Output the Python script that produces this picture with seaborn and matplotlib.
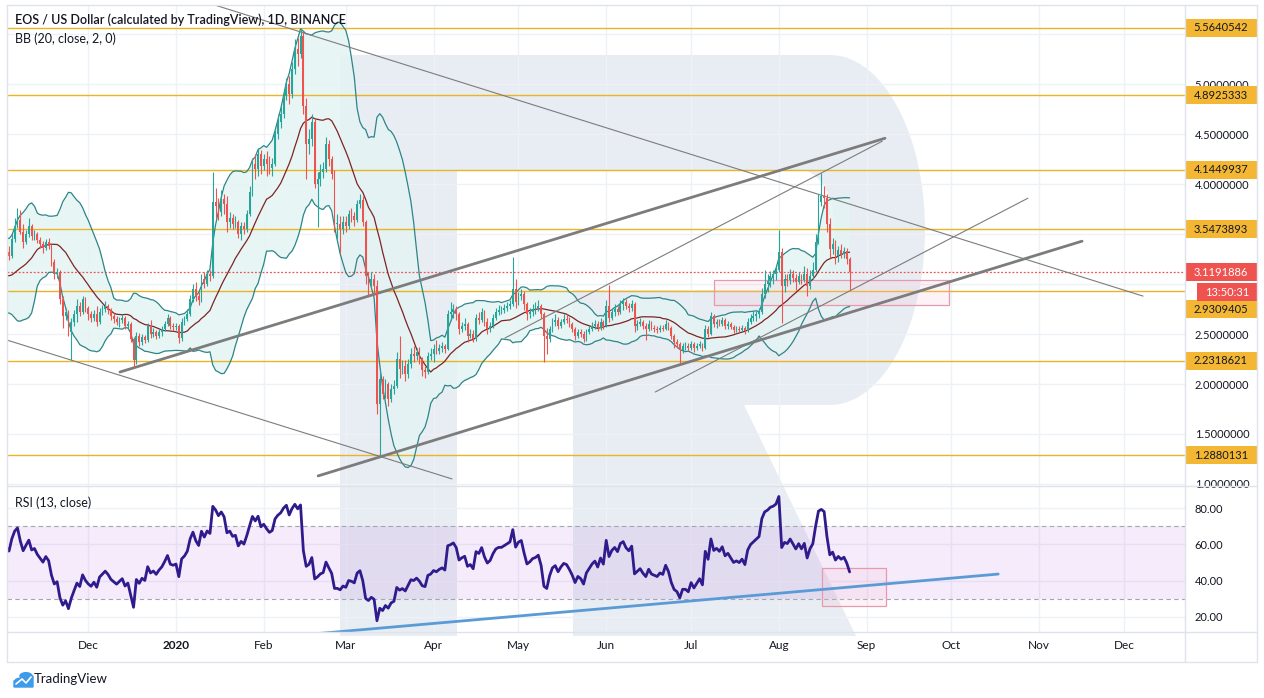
import numpy as np
import pandas as pd
import matplotlib
matplotlib.use("Agg")
import matplotlib.pyplot as plt
import matplotlib.dates as mdates
import matplotlib.transforms as mtransforms
from matplotlib.patches import Rectangle, Polygon, Circle
from matplotlib.lines import Line2D
import seaborn as sns

sns.set_theme(style="white")
plt.rcParams["font.family"] = ["Lato", "DejaVu Sans"]

# ---------------- data (daily EOS/USD) ----------------
first_day = "2019-10-14"
close = [
    3.35, 3.28, 3.15, 3.18, 3.06, 3.02, 3.05, 2.98, 2.88, 2.62, 2.64, 3.00, 3.15, 3.24, 3.12, 3.20, 3.12, 3.16, 3.22, 3.32,
    3.28, 3.45, 3.58, 3.64, 3.52, 3.42, 3.50, 3.58, 3.48, 3.50, 3.44, 3.40, 3.36, 3.42, 3.38, 3.22, 3.10, 3.12, 2.85, 2.68, 2.72, 2.52, 2.62, 2.70, 2.78, 2.72, 2.85, 2.76,
    2.70, 2.66, 2.70, 2.62, 2.72, 2.75, 2.78, 2.74, 2.68, 2.65, 2.62, 2.64, 2.66, 2.58, 2.60, 2.45, 2.24, 2.48, 2.42, 2.47, 2.44, 2.58, 2.50, 2.52, 2.48, 2.52, 2.55, 2.60, 2.66, 2.58, 2.57,
    2.58, 2.46, 2.62, 2.65, 2.70, 2.85, 2.95, 2.88, 2.84, 3.05, 3.00, 3.10, 3.08, 3.82, 3.78, 3.72, 3.85, 3.80, 3.62, 3.66, 3.60, 3.62, 3.50, 3.58, 3.55, 3.70, 3.92, 4.20, 4.15, 4.30, 4.18,
    4.25, 4.20, 4.16, 4.20, 4.50, 4.62, 4.70, 4.88, 5.00, 4.90, 5.15, 5.35, 5.30, 5.48, 4.78, 4.40, 4.45, 4.62, 4.00, 4.05, 4.12, 4.15, 4.40, 4.25, 4.10, 3.60, 3.60, 3.55, 3.62,
    3.58, 3.70, 3.68, 3.64, 3.80, 3.84, 3.62, 3.08, 3.00, 3.05, 2.98, 1.80, 2.05, 1.90, 2.00, 1.85, 1.95, 1.98, 2.25, 2.15, 2.18, 2.10, 2.20, 2.30, 2.28, 2.32, 2.25, 2.14, 2.12, 2.28, 2.30,
    2.35, 2.33, 2.36, 2.38, 2.35, 2.70, 2.72, 2.75, 2.70, 2.55, 2.58, 2.60, 2.48, 2.50, 2.45, 2.66, 2.64, 2.72, 2.62, 2.55, 2.58, 2.66, 2.72, 2.74, 2.74, 2.76, 2.78, 2.80, 2.95, 2.82,
    2.88, 2.90, 2.80, 2.70, 2.72, 2.75, 2.76, 2.78, 2.70, 2.48, 2.45, 2.55, 2.62, 2.64, 2.58, 2.62, 2.65, 2.64, 2.60, 2.55, 2.48, 2.52, 2.50, 2.45, 2.52, 2.55, 2.58, 2.60, 2.56, 2.62, 2.58,
    2.78, 2.66, 2.72, 2.75, 2.72, 2.80, 2.82, 2.78, 2.76, 2.80, 2.58, 2.60, 2.62, 2.58, 2.55, 2.60, 2.56, 2.55, 2.54, 2.56, 2.55, 2.60, 2.56, 2.48, 2.42, 2.40, 2.34, 2.38, 2.38, 2.36,
    2.40, 2.36, 2.38, 2.40, 2.36, 2.55, 2.50, 2.68, 2.60, 2.62, 2.60, 2.64, 2.58, 2.60, 2.57, 2.54, 2.55, 2.54, 2.56, 2.53, 2.62, 2.66, 2.68, 2.70, 2.72, 2.90, 3.00, 3.03, 3.08, 3.10, 3.14,
    3.32, 2.98, 3.05, 3.04, 3.10, 3.06, 3.02, 3.08, 3.04, 3.10, 2.98, 3.08, 3.14, 3.42, 3.82, 3.88, 3.86, 3.60, 3.35, 3.40, 3.28, 3.34, 3.30, 3.33, 3.25, 3.1191886,
]
high = [
    3.40, 3.38, 3.30, 3.22, 3.20, 3.09, 3.08, 3.07, 3.00, 2.90, 2.70, 3.10, 3.25, 3.30, 3.28, 3.26, 3.24, 3.22, 3.28, 3.36,
    3.38, 3.50, 3.66, 3.76, 3.74, 3.60, 3.54, 3.66, 3.60, 3.54, 3.52, 3.47, 3.43, 3.45, 3.46, 3.40, 3.25, 3.16, 3.14, 2.88, 2.76, 2.74, 2.66, 2.74, 2.85, 2.82, 2.88, 2.87,
    2.78, 2.73, 2.74, 2.78, 2.76, 2.79, 2.83, 2.80, 2.76, 2.71, 2.68, 2.67, 2.70, 2.68, 2.63, 2.62, 2.47, 2.52, 2.51, 2.50, 2.49, 2.61, 2.64, 2.56, 2.54, 2.55, 2.58, 2.63, 2.70, 2.68, 2.61,
    2.61, 2.60, 2.66, 2.68, 2.75, 2.89, 3.00, 3.02, 2.92, 3.10, 3.12, 3.14, 3.14, 4.12, 3.96, 3.86, 3.94, 3.90, 3.88, 3.72, 3.70, 3.68, 3.64, 3.62, 3.62, 3.74, 3.98, 4.26, 4.30, 4.36, 4.34,
    4.30, 4.33, 4.28, 4.26, 4.56, 4.70, 4.78, 4.95, 5.06, 5.08, 5.22, 5.45, 5.46, 5.56, 5.52, 4.86, 4.55, 4.70, 4.66, 4.12, 4.20, 4.22, 4.47, 4.44, 4.28, 4.14, 3.70, 3.68, 3.68,
    3.68, 3.74, 3.76, 3.72, 3.84, 3.90, 3.88, 3.64, 3.12, 3.12, 3.10, 3.04, 2.14, 2.08, 2.05, 2.02, 2.00, 2.04, 2.32, 2.48, 2.24, 2.24, 2.25, 2.36, 2.38, 2.36, 2.37, 2.27, 2.18, 2.32, 2.36,
    2.40, 2.44, 2.40, 2.42, 2.40, 2.74, 2.82, 2.80, 2.78, 2.72, 2.62, 2.66, 2.62, 2.55, 2.54, 2.70, 2.72, 2.76, 2.74, 2.66, 2.62, 2.70, 2.76, 2.79, 2.78, 2.80, 2.82, 2.84, 3.27, 3.05,
    2.92, 2.95, 2.93, 2.82, 2.76, 2.80, 2.82, 2.84, 2.80, 2.72, 2.56, 2.58, 2.66, 2.70, 2.67, 2.65, 2.70, 2.70, 2.67, 2.62, 2.57, 2.55, 2.55, 2.53, 2.55, 2.58, 2.62, 2.64, 2.63, 2.66, 2.64,
    2.84, 2.99, 2.76, 2.80, 2.78, 2.84, 2.86, 2.85, 2.81, 2.84, 2.82, 2.64, 2.66, 2.64, 2.61, 2.64, 2.63, 2.59, 2.58, 2.59, 2.59, 2.64, 2.62, 2.58, 2.50, 2.45, 2.42, 2.41, 2.42, 2.41,
    2.43, 2.42, 2.41, 2.43, 2.41, 2.59, 2.58, 2.72, 2.70, 2.65, 2.65, 2.67, 2.66, 2.63, 2.62, 2.59, 2.58, 2.58, 2.59, 2.58, 2.66, 2.70, 2.73, 2.73, 2.76, 2.96, 3.14, 3.10, 3.13, 3.14, 3.18,
    3.54, 3.36, 3.10, 3.10, 3.15, 3.14, 3.10, 3.12, 3.10, 3.18, 3.16, 3.14, 3.22, 3.50, 3.90, 4.11, 3.98, 3.90, 3.66, 3.46, 3.44, 3.38, 3.40, 3.37, 3.36, 3.27,
]
low = [
    3.30, 3.24, 3.10, 3.12, 3.02, 2.98, 2.99, 2.95, 2.85, 2.58, 2.58, 2.62, 2.98, 3.12, 3.08, 3.10, 3.08, 3.08, 3.15, 3.20,
    3.24, 3.26, 3.42, 3.56, 3.50, 3.36, 3.40, 3.47, 3.44, 3.44, 3.41, 3.36, 3.31, 3.34, 3.35, 3.18, 3.05, 3.06, 2.80, 2.56, 2.64, 2.48, 2.24, 2.58, 2.62, 2.68, 2.70, 2.72,
    2.64, 2.62, 2.63, 2.58, 2.60, 2.69, 2.72, 2.70, 2.64, 2.61, 2.59, 2.57, 2.61, 2.55, 2.55, 2.42, 2.17, 2.20, 2.38, 2.39, 2.41, 2.42, 2.46, 2.47, 2.45, 2.46, 2.48, 2.53, 2.58, 2.55, 2.53,
    2.54, 2.41, 2.43, 2.59, 2.63, 2.68, 2.82, 2.83, 2.79, 2.82, 2.96, 2.98, 3.03, 3.06, 3.66, 3.64, 3.68, 3.70, 3.52, 3.56, 3.55, 3.56, 3.46, 3.44, 3.50, 3.52, 3.68, 3.88, 4.05, 4.08, 4.10,
    4.14, 4.08, 4.10, 4.08, 4.18, 4.45, 4.56, 4.66, 4.84, 4.80, 4.86, 5.10, 5.18, 5.26, 4.70, 4.05, 4.30, 4.38, 3.96, 3.57, 3.98, 4.06, 4.12, 4.18, 4.05, 3.52, 3.45, 3.31, 3.50,
    3.52, 3.55, 3.62, 3.58, 3.62, 3.76, 3.58, 3.00, 2.88, 2.96, 2.90, 1.70, 1.29, 1.85, 1.86, 1.78, 1.82, 1.90, 1.96, 2.06, 2.10, 2.03, 2.06, 2.16, 2.22, 2.24, 2.20, 2.08, 2.06, 2.10, 2.24,
    2.22, 2.30, 2.30, 2.32, 2.31, 2.34, 2.64, 2.66, 2.64, 2.50, 2.52, 2.54, 2.42, 2.46, 2.42, 2.43, 2.60, 2.62, 2.58, 2.50, 2.52, 2.56, 2.64, 2.69, 2.70, 2.71, 2.73, 2.75, 2.78, 2.76,
    2.79, 2.84, 2.74, 2.64, 2.66, 2.68, 2.70, 2.73, 2.66, 2.22, 2.30, 2.42, 2.52, 2.58, 2.55, 2.56, 2.60, 2.61, 2.57, 2.52, 2.44, 2.46, 2.47, 2.42, 2.43, 2.50, 2.53, 2.55, 2.53, 2.54, 2.55,
    2.57, 2.62, 2.64, 2.68, 2.69, 2.70, 2.74, 2.75, 2.72, 2.73, 2.52, 2.54, 2.58, 2.55, 2.44, 2.53, 2.54, 2.52, 2.51, 2.52, 2.53, 2.54, 2.54, 2.45, 2.36, 2.36, 2.21, 2.31, 2.34, 2.33,
    2.34, 2.32, 2.34, 2.36, 2.33, 2.35, 2.47, 2.49, 2.57, 2.56, 2.58, 2.58, 2.55, 2.55, 2.55, 2.51, 2.52, 2.52, 2.52, 2.50, 2.52, 2.60, 2.63, 2.63, 2.66, 2.70, 2.86, 2.92, 2.97, 3.00, 3.04,
    3.12, 2.61, 2.92, 2.98, 3.00, 3.02, 2.94, 3.00, 3.00, 3.02, 2.88, 2.95, 3.05, 3.12, 3.40, 3.78, 3.76, 3.52, 3.26, 3.30, 3.20, 3.22, 3.26, 3.26, 3.20, 2.94,
]

levels = [5.5640542, 4.8925333, 4.1449937, 3.5473893, 2.9309405, 2.2318621, 1.2880131]
last_price = 3.1191886
timer_text = "13:50:31"
price_ticks = [1.0, 1.5, 2.0, 2.5, 4.0, 4.5, 5.0]
price_grid_only = [3.0, 3.5, 5.5]
rsi_ticks = [20, 40, 60, 80]
month_starts = pd.date_range("2019-12-01", "2020-12-01", freq="MS")
month_labels = ["Dec", "2020", "Feb", "Mar", "Apr", "May", "Jun", "Jul", "Aug", "Sep", "Oct", "Nov", "Dec"]

# trend lines: (start date, start price, end date, end price)
thin_lines = [
    ("2020-01-09 12:00", 5.84, "2020-12-07 16:00", 2.88),
    ("2019-10-31 00:00", 2.46, "2020-04-07 12:00", 1.05),
    ("2020-06-18 08:00", 1.92, "2020-10-28 00:00", 3.86),
    ("2020-04-26 05:00", 2.46, "2020-09-06 12:00", 4.43),
]
thick_lines = [
    ("2019-12-12 05:00", 2.12, "2020-09-07 12:00", 4.46),
    ("2020-02-20 05:00", 1.08, "2020-11-16 03:00", 3.43),
]
price_box = ("2020-07-09", "2020-09-30", 2.79, 3.04)
rsi_box = ("2020-08-16 08:00", "2020-09-07 22:00", 26.0, 46.8)
rsi_trend = ("2020-02-18 10:00", 10.4, "2020-10-17 12:00", 43.6)
view_start, view_end = "2019-11-02 07:00", "2020-12-22 12:00"

# ---------------- indicators ----------------
dates = pd.date_range(first_day, periods=len(close), freq="D")
df = pd.DataFrame({"date": dates, "close": close, "high": high, "low": low})
df["open"] = df["close"].shift(1).fillna(df["close"])
mid = df["close"].rolling(20).mean()
sd = df["close"].rolling(20).std(ddof=0)
df["bb_mid"], df["bb_up"], df["bb_lo"] = mid, mid + 2 * sd, mid - 2 * sd
chg = df["close"].diff().fillna(0)
gain = chg.clip(lower=0).ewm(alpha=1 / 13, adjust=False).mean()
loss = (-chg.clip(upper=0)).ewm(alpha=1 / 13, adjust=False).mean()
df["rsi"] = 100 - 100 / (1 + gain / loss)
df["x"] = mdates.date2num(df["date"])

# ---------------- figure ----------------
W, H = 1264, 698
UP, DOWN = "#26a69a", "#ef5350"
LEVEL_C, BOX_C = "#e9b526", "#f3b733"
GRID_C, FRAME_C = "#eef1f6", "#dfe2ea"
fig = plt.figure(figsize=(W / 100, H / 100), dpi=100)
fig.patch.set_facecolor("white")
L_PX, R_PX, TOP_PX, MID_PX, BOT_PX = 7, 1185, 5, 486, 632
ax = fig.add_axes([L_PX / W, 1 - MID_PX / H, (R_PX - L_PX) / W, (MID_PX - TOP_PX) / H])
ax2 = fig.add_axes([L_PX / W, 1 - BOT_PX / H, (R_PX - L_PX) / W, (BOT_PX - MID_PX) / H], sharex=ax)
for a in (ax, ax2):
    a.set_facecolor("none")
    for s in a.spines.values():
        s.set_visible(False)

# watermark "R" (figure decoration, pixel outline)
def fxy(x, y):
    return (x / W, 1 - y / H)
pts = [(340, 636), (340, 55), (830, 55)]
for t in np.linspace(90, -90, 40):
    pts.append((830 + 95 * np.cos(np.radians(t)), 230 - 175 * np.sin(np.radians(t))))
pts += [(744, 405), (856, 636), (573, 636), (573, 290)]
for t in np.linspace(-90, 90, 30):
    pts.append((800 + 35 * np.cos(np.radians(t)), 230 - 60 * np.sin(np.radians(t))))
pts += [(457, 170), (457, 636)]
fig.add_artist(Polygon([fxy(*p) for p in pts], closed=True, transform=fig.transFigure,
                       facecolor="#e8ecf3", edgecolor="none", zorder=-1))

x0 = mdates.date2num(pd.Timestamp(view_start))
x1 = mdates.date2num(pd.Timestamp(view_end))
ax.set_xlim(x0, x1)
ax.set_ylim(0.979, 5.794)
ax2.set_ylim(11.5, 92.4)

# grid
ax2.set_xticks(mdates.date2num(month_starts))
ax.set_yticks(price_ticks)
ax.set_yticks(price_grid_only, minor=True)
ax2.set_yticks(rsi_ticks)
for a in (ax, ax2):
    a.grid(True, which="both", color=GRID_C, lw=1.0)
    a.set_axisbelow(True)

# Bollinger bands
ax.fill_between(df["x"], df["bb_lo"], df["bb_up"], color="#e4f4f4", alpha=0.85, lw=0, zorder=1)
sns.lineplot(x=df["x"], y=df["bb_up"], ax=ax, color="#2d8587", lw=0.9, zorder=3)
sns.lineplot(x=df["x"], y=df["bb_lo"], ax=ax, color="#2d8587", lw=0.9, zorder=3)
sns.lineplot(x=df["x"], y=df["bb_mid"], ax=ax, color="#7d2424", lw=0.9, zorder=3)

# horizontal levels and last price
for lv in levels:
    ax.axhline(lv, color=LEVEL_C, lw=1.0, zorder=2)
ax.axhline(last_price, color=DOWN, lw=0.9, ls=(0, (1.5, 1.5)), zorder=2)

# trend lines
for d0, p0, d1, p1 in thin_lines:
    ax.plot(pd.to_datetime([d0, d1]).map(mdates.date2num), [p0, p1], color="#7c7c7c", lw=0.8, zorder=3)
for d0, p0, d1, p1 in thick_lines:
    ax.plot(pd.to_datetime([d0, d1]).map(mdates.date2num), [p0, p1], color="#7c7c7c", lw=2.0, zorder=3)

# pink box
bx0, bx1 = mdates.date2num(pd.Timestamp(price_box[0])), mdates.date2num(pd.Timestamp(price_box[1]))
ax.add_patch(Rectangle((bx0, price_box[2]), bx1 - bx0, price_box[3] - price_box[2],
                       facecolor="#f8bbd0", alpha=0.18, edgecolor="none", zorder=2))
ax.add_patch(Rectangle((bx0, price_box[2]), bx1 - bx0, price_box[3] - price_box[2],
                       facecolor="none", edgecolor="#e69ab0", lw=0.9, zorder=2))

# candles
colors = np.where(df["close"] >= df["open"], UP, DOWN)
ax.vlines(df["x"], df["low"], df["high"], colors=colors, lw=0.8, zorder=4)
body_bottom = np.minimum(df["open"], df["close"])
body_h = np.maximum((df["close"] - df["open"]).abs(), 0.008)
ax.bar(df["x"], body_h, bottom=body_bottom, width=0.62, color=colors, linewidth=0, zorder=5)

# RSI pane
ax2.axhspan(30, 70, color="#b36be0", alpha=0.13, lw=0, zorder=1)
for lv in (70, 30):
    ax2.axhline(lv, color="#a3a6af", lw=0.8, ls=(0, (4, 3)), zorder=2)
rx = pd.to_datetime([rsi_trend[0], rsi_trend[2]]).map(mdates.date2num)
ax2.plot(rx, [rsi_trend[1], rsi_trend[3]], color="#5b9bd5", lw=2.0, zorder=3)
rb0, rb1 = mdates.date2num(pd.Timestamp(rsi_box[0])), mdates.date2num(pd.Timestamp(rsi_box[1]))
ax2.add_patch(Rectangle((rb0, rsi_box[2]), rb1 - rb0, rsi_box[3] - rsi_box[2],
                        facecolor="#f8bbd0", alpha=0.18, edgecolor="none", zorder=2))
ax2.add_patch(Rectangle((rb0, rsi_box[2]), rb1 - rb0, rsi_box[3] - rsi_box[2],
                        facecolor="none", edgecolor="#e69ab0", lw=0.9, zorder=2))
sns.lineplot(x=df["x"], y=df["rsi"], ax=ax2, color="#2f1b8c", lw=2.0, zorder=5)

for a in (ax, ax2):
    a.set_xlabel("")
    a.set_ylabel("")

# axes ticks / labels
ax.yaxis.tick_right()
ax.yaxis.set_major_formatter(matplotlib.ticker.FuncFormatter(lambda v, p: f"{v:.7f}"))
ax.yaxis.set_minor_formatter(matplotlib.ticker.NullFormatter())
ax.tick_params(axis="y", which="both", length=0, pad=7, labelsize=8, labelcolor="#131722")
ax.tick_params(axis="x", length=0, labelbottom=False)
ax2.yaxis.tick_right()
ax2.yaxis.set_major_formatter(matplotlib.ticker.FuncFormatter(lambda v, p: f"{v:.2f}"))
ax2.tick_params(axis="y", length=0, pad=7, labelsize=8, labelcolor="#131722")
ax2.set_xticklabels(month_labels)
ax2.tick_params(axis="x", length=0, pad=6, labelsize=8.5, labelcolor="#131722")
for lab in ax2.get_xticklabels():
    if lab.get_text() == "2020":
        lab.set_fontweight("bold")

# price-scale boxes
ppu = (MID_PX - TOP_PX) / (5.794 - 0.979)
trans = mtransforms.blended_transform_factory(ax.transAxes, ax.transData)
label_shift_px = {2.9309405: 18}
def price_box_label(y, text, fc, tc, xoff_px=0, w_px=72):
    h = 18 / ppu
    ax.add_patch(Rectangle((1.0 + xoff_px / (R_PX - L_PX), y - h / 2), w_px / (R_PX - L_PX), h,
                           transform=trans, clip_on=False, facecolor=fc, edgecolor="none", zorder=10))
    ax.text(1.0 + (xoff_px + w_px / 2) / (R_PX - L_PX), y, text, transform=trans, clip_on=False,
            ha="center", va="center", fontsize=8, color=tc, zorder=11)
for lv in levels:
    price_box_label(lv - label_shift_px.get(lv, 0) / ppu, f"{lv:.7f}", BOX_C, "#131722")
price_box_label(last_price, f"{last_price:.7f}", "#ef5350", "white")
price_box_label(last_price - 20 / ppu, timer_text, "#ef5350", "white", xoff_px=12, w_px=60)

# frame lines
def fig_line(xa, ya, xb, yb, **kw):
    fig.add_artist(Line2D([xa / W, xb / W], [1 - ya / H, 1 - yb / H], transform=fig.transFigure, **kw))
for y in (TOP_PX, MID_PX, BOT_PX, 662):
    fig_line(L_PX, y, 1257, y, color=FRAME_C, lw=1)
for xx in (L_PX, R_PX, 1257):
    fig_line(xx, TOP_PX, xx, 662, color=FRAME_C, lw=1)

# titles
fig.text(15 / W, 1 - 20 / H, "EOS / US Dollar (calculated by TradingView), 1D, BINANCE",
         fontsize=9, fontweight="semibold", color="#131722", va="center", ha="left")
fig.text(15 / W, 1 - 39 / H, "BB (20, close, 2, 0)", fontsize=9, color="#131722", va="center", ha="left")
fig.text(15 / W, 1 - 503 / H, "RSI (13, close)", fontsize=9, color="#131722", va="center", ha="left")

# TradingView logo
for cx, cy, r in [(20, 681, 5), (26, 676, 6)]:
    fig.add_artist(Circle(fxy(cx, cy), r / W, transform=fig.transFigure, color="#3d9be9", zorder=5))
fig.add_artist(Polygon([fxy(14, 681), fxy(33, 676), fxy(33, 687), fxy(14, 687)], closed=True,
                       transform=fig.transFigure, color="#3d9be9", zorder=5))
fig.add_artist(Line2D([fxy(16, 684)[0], fxy(22, 679)[0], fxy(26, 683)[0], fxy(31, 677)[0]],
                      [fxy(16, 684)[1], fxy(22, 679)[1], fxy(26, 683)[1], fxy(31, 677)[1]],
                      transform=fig.transFigure, color="white", lw=1.2, zorder=6))
fig.text(34 / W, 1 - 679 / H, "TradingView", fontsize=9.5, color="#131722", va="center", ha="left")

fig.savefig("out.png", dpi=100, facecolor="white")
